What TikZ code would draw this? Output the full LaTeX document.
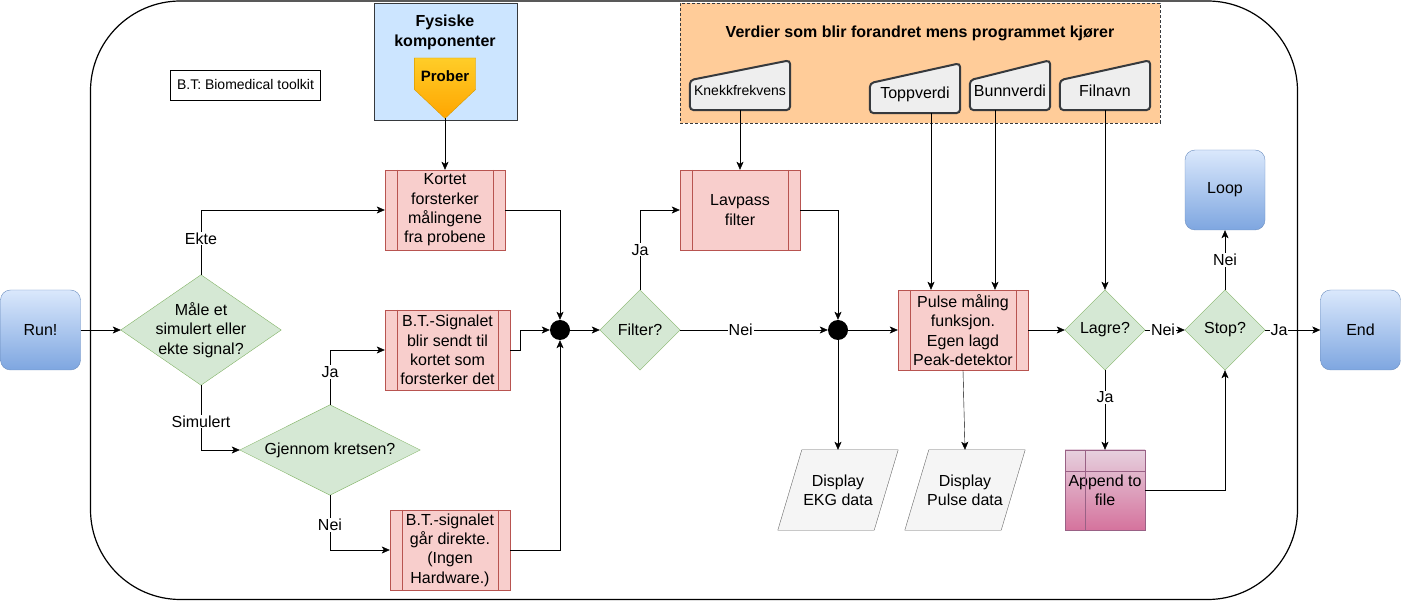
\documentclass[tikz,border=0pt]{standalone}
\usepackage{fontspec}
\setmainfont{Liberation Sans}
\usepackage{tikz}
\usetikzlibrary{arrows.meta}
\pgfdeclarelayer{bg}
\pgfdeclarelayer{mid}
\pgfsetlayers{bg,mid,main}
\definecolor{grfill}{HTML}{D5E8D4}
\definecolor{grline}{HTML}{82B366}
\definecolor{rdfill}{HTML}{F8CECC}
\definecolor{rdline}{HTML}{B85450}
\definecolor{bltop}{HTML}{DAE8FC}
\definecolor{blbot}{HTML}{7EA6E0}
\definecolor{blline}{HTML}{6C8EBF}
\definecolor{dkline}{HTML}{36393D}
\definecolor{fysfill}{HTML}{CCE5FF}
\definecolor{orfill}{HTML}{FFCC99}
\definecolor{infill}{HTML}{EEEEEE}
\definecolor{dispfill}{HTML}{F5F5F5}
\definecolor{displine}{HTML}{666666}
\definecolor{prtop}{HTML}{FFCD28}
\definecolor{prbot}{HTML}{FFA500}
\definecolor{prline}{HTML}{D79B00}
\definecolor{aptop}{HTML}{E6D0DE}
\definecolor{apbot}{HTML}{D5739D}
\definecolor{apline}{HTML}{996185}

\begin{document}
\begin{tikzpicture}[x=1pt,y=-1pt,line width=1pt,
  every node/.style={font=\fontsize{16}{19.3}\selectfont,align=center,inner sep=0pt},
  arr/.style={-{Stealth[length=8pt,width=7pt,inset=2pt]}},
  lbl/.style={fill=white,inner sep=1pt},
  proc/.style={draw=rdline,fill=rdfill,minimum height=80},
  term/.style={draw=blline,top color=bltop,bottom color=blbot,rounded corners=10pt,minimum width=80,minimum height=80},
  dia/.style={minimum width=80,minimum height=80},
  diashape/.style={draw=grline,fill=grfill},
  minput/.style={minimum height=38},
  inshape/.style={draw=dkline,fill=infill,line width=2pt,rounded corners=4pt},
  disp/.style={minimum width=120,minimum height=80},
  dispshape/.style={draw=displine,fill=dispfill},
  knute/.style={circle,fill=black,minimum size=20}]
\useasboundingbox (0,0) rectangle (1401,601);
\begin{pgfonlayer}{bg}
\draw[line width=1.2pt,rounded corners=90pt] (90.5,1) rectangle (1297.5,599.5);
\node[draw=dkline,fill=fysfill,minimum width=142.5,minimum height=117,anchor=north west] (fysboks) at (374,3) {};
\node[draw=dkline,fill=orfill,dash pattern=on 3pt off 2pt,minimum width=480,minimum height=120,anchor=north west] (verdiboks) at (680,3) {};
\end{pgfonlayer}
\node[font=\bfseries\fontsize{16}{20}\selectfont] (fystittel) at (445,32) {Fysiske\\komponenter};
\node[font=\bfseries\fontsize{16}{19.3}\selectfont] (verditittel) at (920,33) {Verdier som blir forandret mens programmet kjører};
\node[font=\bfseries\fontsize{15}{18}\selectfont,text height=23.5pt,text depth=36.5pt,minimum width=61,anchor=north] (prober) at (445,58) {Prober};
\node[draw,font=\fontsize{14}{17}\selectfont,minimum width=150,minimum height=30] (btforkl) at (245.5,85) {B.T: Biomedical toolkit};
\node[term] (run) at (40.5,330) {Run!};
\node[dia,minimum width=160,minimum height=110] (maale) at (201,330) {Måle et\\simulert eller\\ekte signal?};
\node[dia,minimum width=180,minimum height=90] (gjennom) at (330,450) {Gjennom kretsen?};
\node[proc,minimum width=120] (kortet) at (445,210) {Kortet\\forsterker\\målingene\\fra probene};
\node[proc,minimum width=125] (btsig) at (447.5,350) {B.T.-Signalet\\blir sendt til\\kortet som\\forsterker det};
\node[proc,minimum width=120] (btdir) at (450,550) {B.T.-signalet\\går direkte.\\(Ingen\\Hardware.)};
\node[knute] (knute1) at (560,330) {};
\node[dia] (filter) at (640,330) {Filter?};
\node[proc,minimum width=120] (lavpass) at (740,210) {Lavpass\\filter};
\node[knute] (knute2) at (838,330) {};
\node[proc,minimum width=130] (pulse) at (963,330) {Pulse måling\\funksjon.\\Egen lagd\\Peak-detektor};
\node[disp] (ekg) at (838,490) {Display\\EKG data};
\node[disp] (pdisp) at (965,490) {Display\\Pulse data};
\node[dia] (lagre) at (1105,330) {Lagre?};
\node[draw=apline,top color=aptop,bottom color=apbot,minimum width=80,minimum height=80] (append) at (1105,490) {Append to\\file};
\node[dia] (stop) at (1225,330) {Stop?};
\node[term] (loekke) at (1225,190) {Loop};
\node[term] (slutt) at (1360.5,330) {End};
\node[minput,minimum width=100,font=\fontsize{14}{17}\selectfont] (knekk) at (740,91) {Knekkfrekvens};
\node[minput,minimum width=90] (topp) at (915,94) {Toppverdi};
\node[minput,minimum width=80] (bunn) at (1010,91) {Bunnverdi};
\node[minput,minimum width=90] (filnavn) at (1105,91) {Filnavn};
\begin{pgfonlayer}{mid}
\foreach \n in {maale,gjennom,filter,lagre,stop}
  \draw[diashape] (\n.north) -- (\n.east) -- (\n.south) -- (\n.west) -- cycle;
\foreach \n in {ekg,pdisp}
  \draw[dispshape] (\n.south west) -- ([xshift=24pt]\n.north west) -- (\n.north east) -- ([xshift=-24pt]\n.south east) -- cycle;
\foreach \n in {knekk,topp,bunn,filnavn}
  \draw[inshape] (\n.south west) -- ([yshift=30pt]\n.south west) -- ([yshift=50pt]\n.south east) -- (\n.south east) -- cycle;
\draw[draw=prline,top color=prtop,bottom color=prbot] (prober.north west) -- (prober.north east) -- ([yshift=29pt]prober.south east) -- (prober.south) -- ([yshift=29pt]prober.south west) -- cycle;
\end{pgfonlayer}
\foreach \n in {kortet,btsig,btdir,lavpass,pulse}
  \draw[rdline] ([xshift=12pt]\n.north west) -- ([xshift=12pt]\n.south west) ([xshift=-12pt]\n.north east) -- ([xshift=-12pt]\n.south east);
\draw[apline] ([xshift=20pt]append.north west) -- ([xshift=20pt]append.south west) ([yshift=-21pt]append.north west) -- ([yshift=-21pt]append.north east);
\draw[arr] (run.east) -- (maale.west);
\draw[arr] (maale.north) |- node[lbl,pos=0.28]{Ekte} (kortet.west);
\draw[arr] (maale.south) |- node[lbl,pos=0.28]{Simulert} (gjennom.west);
\draw[arr] (gjennom.north) |- node[lbl,pos=0.3]{Ja} (btsig.west);
\draw[arr] (gjennom.south) |- node[lbl,pos=0.27]{Nei} (btdir.west);
\draw[arr] (prober.south) -- (kortet.north);
\draw[arr] (kortet.east) -| (knute1.north);
\draw[arr] (btsig.east) -- ++(10,0) |- (knute1.west);
\draw[arr] (btdir.east) -| (knute1.south);
\draw[arr] (knute1.east) -- (filter.west);
\draw[arr] (filter.north) |- node[lbl,pos=0.25]{Ja} (lavpass.west);
\draw[arr] (filter.east) -- node[lbl,pos=0.41]{Nei} (knute2.west);
\draw[arr] (knekk.south) -- (lavpass.north);
\draw[arr] (lavpass.east) -| (knute2.north);
\draw[arr] (knute2.east) -- (pulse.west);
\draw[arr] (knute2.south) -- (ekg.north);
\draw[arr] ([xshift=16pt]topp.south) -- ([xshift=-32pt]pulse.north);
\draw[arr] ([xshift=-15pt]bunn.south) -- ([xshift=32pt]pulse.north);
\draw[arr] (pulse.south) -- (pdisp.north);
\draw[arr] (pulse.east) -- (lagre.west);
\draw[arr] (filnavn.south) -- (lagre.north);
\draw[arr] (lagre.east) -- node[lbl,pos=0.45]{Nei} (stop.west);
\draw[arr] (lagre.south) -- node[lbl,pos=0.34]{Ja} (append.north);
\draw[arr] (append.east) -| (stop.south);
\draw[arr] (stop.north) -- node[lbl,pos=0.5]{Nei} (loekke.south);
\draw[arr] (stop.east) -- node[lbl,pos=0.25]{Ja} (slutt.west);
\end{tikzpicture}
\end{document}
